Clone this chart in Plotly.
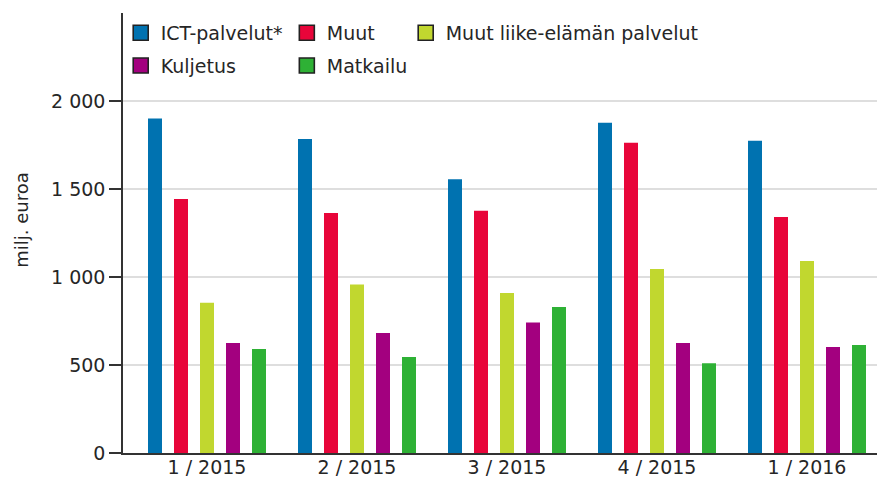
import plotly.graph_objects as go

quarters = ["1 / 2015", "2 / 2015", "3 / 2015", "4 / 2015", "1 / 2016"]

series_names = ["ICT-palvelut*", "Muut", "Muut liike-elämän palvelut", "Kuljetus", "Matkailu"]
ict = [1900, 1784, 1556, 1877, 1774]
muut = [1443, 1363, 1377, 1763, 1341]
liike = [854, 957, 909, 1045, 1091]
kuljetus = [625, 682, 741, 625, 602]
matkailu = [591, 545, 829, 510, 613]

colors = ["#0072B0", "#E8053A", "#C1D72F", "#A3007F", "#2EB135"]
values = [ict, muut, liike, kuljetus, matkailu]
legend_ids = ["legend", "legend2", "legend3", "legend", "legend2"]

y_ticks = [0, 500, 1000, 1500, 2000]
y_ticktext = ["0", "500", "1 000", "1 500", "2 000"]
y_title = "milj. euroa"

FONT = "DejaVu Sans"
TXT = "#262626"

fig = go.Figure()
for name, vals, col in zip(series_names, values, colors):
    fig.add_trace(go.Bar(
        x=quarters, y=vals, name=name, showlegend=False,
        marker=dict(color=col, line=dict(width=0)),
    ))

# legend-only entries (square symbols with dark outline)
for i, (name, col, lg) in enumerate(zip(series_names, colors, legend_ids)):
    fig.add_trace(go.Scatter(
        x=[None], y=[None], mode="markers", name=name,
        legend=lg, legendgroup="g%d" % i,
        marker=dict(symbol="square", size=15, color=col,
                    line=dict(width=1.6, color="#222222")),
    ))

legend_common = dict(
    orientation="v", yanchor="top", xanchor="left",
    bgcolor="rgba(0,0,0,0)", borderwidth=0,
    font=dict(family=FONT, size=19, color=TXT),
    traceorder="grouped", tracegroupgap=5,
)

fig.update_layout(
    width=877, height=480,
    margin=dict(l=115, r=0, t=5, b=35, autoexpand=False),
    paper_bgcolor="white", plot_bgcolor="white",
    barmode="group", bargap=0.1333, bargroupgap=0.4615,
    font=dict(family=FONT, size=19, color=TXT),
    legend=dict(x=-0.003, y=0.998, **legend_common),
    legend2=dict(x=0.215, y=0.998, **legend_common),
    legend3=dict(x=0.371, y=0.998, **legend_common),
    xaxis=dict(
        type="category", range=[-0.56, 4.52],
        showline=True, linecolor="#333333", linewidth=2,
        ticks="", showgrid=False, zeroline=False,
        ticklabelstandoff=-4,
        tickfont=dict(family=FONT, size=19, color=TXT),
    ),
    yaxis=dict(
        range=[0, 2500], tickvals=y_ticks, ticktext=y_ticktext,
        showline=True, linecolor="#333333", linewidth=1.5,
        ticks="outside", ticklen=12, tickwidth=1.5, tickcolor="#333333",
        ticklabelstandoff=0,
        showgrid=True, gridcolor="#dedede", gridwidth=1.5,
        zeroline=False,
        tickfont=dict(family=FONT, size=19, color=TXT),
    ),
    annotations=[dict(
        text=y_title, textangle=-90, showarrow=False,
        xref="paper", yref="paper", x=-0.1325, y=0.53,
        xanchor="center", yanchor="middle",
        font=dict(family=FONT, size=18, color=TXT),
    )],
)

fig.write_html("out.html")
